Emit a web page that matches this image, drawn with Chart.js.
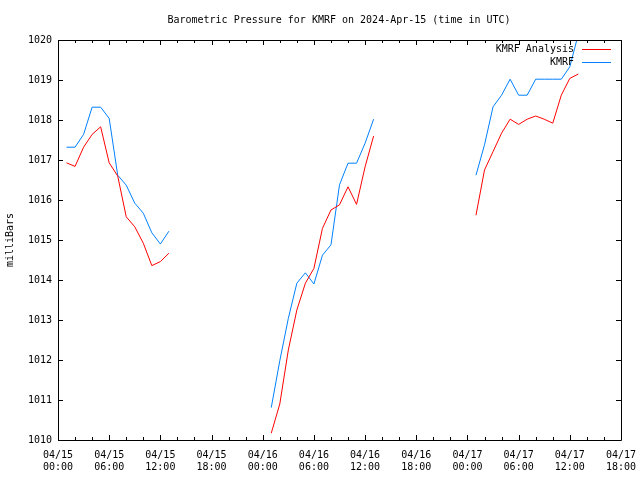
<!DOCTYPE html>
<html>
<head>
<meta charset="utf-8">
<script src="https://cdn.jsdelivr.net/npm/chart.js@4.4.1/dist/chart.umd.min.js"></script>
<style>
  html, body { margin: 0; padding: 0; background: #fff; }
  #wrap { width: 640px; height: 480px; }
</style>
</head>
<body>
<div id="wrap"><canvas id="graph" width="640" height="480"></canvas></div>
<script>
// hours since 2024-04-15 00:00 UTC
const hoursA = [1, 2, 3, 4, 5, 6, 7, 8, 9, 10, 11, 12, 13];
const hoursB = [25, 26, 27, 28, 29, 30, 31, 32, 33, 34, 35, 36, 37];
const hoursC = [49, 50, 51, 52, 53, 54, 55, 56, 57, 58, 59, 60, 61];

const analysisA = [1016.93, 1016.84, 1017.32, 1017.64, 1017.83, 1016.93, 1016.6, 1015.58, 1015.33, 1014.92, 1014.36, 1014.46, 1014.67];
const analysisB = [1010.17, 1010.9, 1012.25, 1013.25, 1013.92, 1014.29, 1015.29, 1015.75, 1015.88, 1016.33, 1015.89, 1016.83, 1017.6];
const analysisC = [1015.62, 1016.75, 1017.21, 1017.67, 1018.02, 1017.89, 1018.02, 1018.1, 1018.02, 1017.92, 1018.62, 1019.04, 1019.15];

const kmrfA = [1017.32, 1017.32, 1017.64, 1018.32, 1018.32, 1018.04, 1016.62, 1016.37, 1015.92, 1015.67, 1015.18, 1014.9, 1015.22];
const kmrfB = [1010.81, 1011.98, 1013.04, 1013.92, 1014.18, 1013.9, 1014.62, 1014.88, 1016.38, 1016.92, 1016.92, 1017.42, 1018.02];
const kmrfC = [1016.62, 1017.38, 1018.33, 1018.62, 1019.02, 1018.62, 1018.62, 1019.02, 1019.02, 1019.02, 1019.02, 1019.33, 1020.15];

const xTickDates = ['04/15', '04/15', '04/15', '04/15', '04/16', '04/16', '04/16', '04/16', '04/17', '04/17', '04/17', '04/17'];
const xTickTimes = ['00:00', '06:00', '12:00', '18:00', '00:00', '06:00', '12:00', '18:00', '00:00', '06:00', '12:00', '18:00'];

const titleText = 'Barometric Pressure for KMRF on 2024-Apr-15 (time in UTC)';
const FONT = "'DejaVu Sans Mono', 'Liberation Mono', monospace";

function segments(hourLists, valueLists) {
    const pts = [];
    hourLists.forEach((hrs, s) => {
        if (s > 0) pts.push({ x: hrs[0] - 1, y: null });
        hrs.forEach((h, i) => pts.push({ x: h, y: valueLists[s][i] }));
    });
    return pts;
}

// gnuplot style frame with inward ticks, title and legend inside the plot
const framePlugin = {
    id: 'frame',
    afterDraw(chart) {
        const { ctx, chartArea: a, scales } = chart;
        const xs = scales.x, ys = scales.y;
        ctx.save();
        ctx.strokeStyle = '#000';
        ctx.lineWidth = 1;
        ctx.beginPath();
        ctx.rect(Math.round(a.left) + 0.5, Math.round(a.top) + 0.5,
                 Math.round(a.right - a.left), Math.round(a.bottom - a.top));
        for (let h = xs.min; h <= xs.max; h += 2) {
            const px = Math.round(xs.getPixelForValue(h)) + 0.5;
            const len = (h % 6 === 0) ? 5 : 3;
            ctx.moveTo(px, a.bottom); ctx.lineTo(px, a.bottom - len);
            ctx.moveTo(px, a.top); ctx.lineTo(px, a.top + len);
        }
        for (let v = ys.min; v <= ys.max; v += 1) {
            const py = Math.round(ys.getPixelForValue(v)) + 0.5;
            ctx.moveTo(a.left, py); ctx.lineTo(a.left + 5, py);
            ctx.moveTo(a.right, py); ctx.lineTo(a.right - 5, py);
        }
        ctx.stroke();

        ctx.font = '10px ' + FONT;
        ctx.fillStyle = '#000';
        ctx.textAlign = 'center';
        ctx.textBaseline = 'middle';
        ctx.fillText(titleText, 339, 20);

        ctx.textAlign = 'right';
        chart.data.datasets.forEach((ds, i) => {
            const y = a.top + 9 + i * 13;
            ctx.fillStyle = '#000';
            ctx.fillText(ds.label, a.right - 47, y);
            ctx.strokeStyle = ds.borderColor;
            ctx.beginPath();
            ctx.moveTo(a.right - 39, Math.round(y) + 0.5);
            ctx.lineTo(a.right - 10, Math.round(y) + 0.5);
            ctx.stroke();
        });
        ctx.restore();
    }
};

const ctx = document.getElementById('graph').getContext('2d');
const myChart = new Chart(ctx, {
    type: 'line',
    data: {
        datasets: [{
            label: 'KMRF Analysis',
            data: segments([hoursA, hoursB, hoursC], [analysisA, analysisB, analysisC]),
            borderColor: 'rgb(255, 0, 0)',
            borderWidth: 1,
            pointRadius: 0,
            tension: 0,
            spanGaps: false
        }, {
            label: 'KMRF',
            data: segments([hoursA, hoursB, hoursC], [kmrfA, kmrfB, kmrfC]),
            borderColor: 'rgb(0, 128, 255)',
            borderWidth: 1,
            pointRadius: 0,
            tension: 0,
            spanGaps: false
        }]
    },
    options: {
        responsive: false,
        animation: false,
        layout: { padding: { left: 0, right: 19, top: 40, bottom: 0 } },
        plugins: {
            legend: { display: false },
            tooltip: { enabled: false },
            title: { display: false }
        },
        scales: {
            x: {
                type: 'linear',
                min: 0,
                max: 66,
                grid: { display: false, drawTicks: false },
                border: { display: false },
                afterFit(scale) {
                    scale.height = 40;
                    scale.paddingLeft = 0;
                    scale.paddingRight = 0;
                },
                ticks: {
                    stepSize: 6,
                    autoSkip: false,
                    maxRotation: 0,
                    padding: 9,
                    color: '#000',
                    font: { family: FONT, size: 10 },
                    callback: (v) => {
                        const i = Math.round(v / 6);
                        return [xTickDates[i], xTickTimes[i]];
                    }
                }
            },
            y: {
                min: 1010,
                max: 1020,
                grid: { display: false, drawTicks: false },
                border: { display: false },
                afterFit(scale) {
                    scale.width = 58;
                    scale.paddingTop = 0;
                    scale.paddingBottom = 0;
                },
                title: {
                    display: true,
                    text: 'milliBars',
                    color: '#000',
                    font: { family: FONT, size: 10 },
                    padding: { top: 4, bottom: 0 }
                },
                ticks: {
                    stepSize: 1,
                    padding: 6,
                    color: '#000',
                    font: { family: FONT, size: 10 },
                    callback: (v) => String(v)
                }
            }
        }
    },
    plugins: [framePlugin]
});
</script>
</body>
</html>
